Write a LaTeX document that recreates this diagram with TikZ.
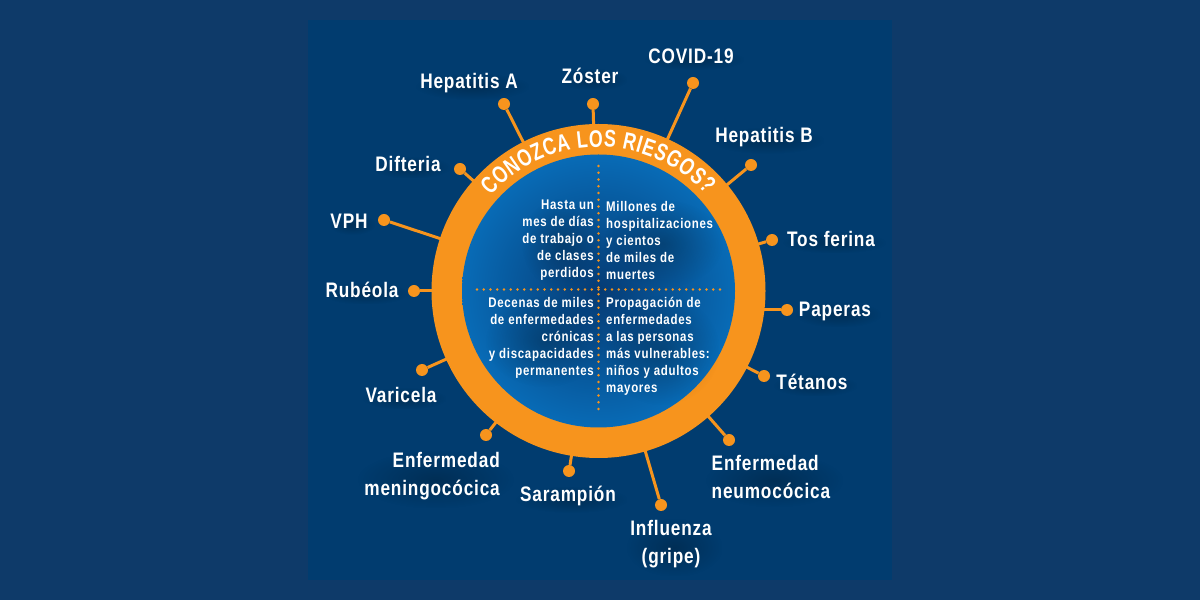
\documentclass[tikz,border=0pt]{standalone}
\usepackage{fontspec}
\usetikzlibrary{decorations.text,shadows,fadings}
\newfontfamily\lf{Liberation Sans}[FakeStretch=0.82,LetterSpace=4]
\newfontfamily\quadf{Liberation Sans}[FakeStretch=0.82,LetterSpace=5]
\newfontfamily\arcf{Liberation Sans}[FakeStretch=0.74]
\definecolor{pagebg}{HTML}{0E3A69}
\definecolor{panelbg}{HTML}{013C6F}
\definecolor{ringor}{HTML}{F7941D}
\definecolor{coreout}{HTML}{086BB6}
\definecolor{corein}{HTML}{063B74}
\tikzfading[name=softblob,inner color=transparent!55,outer color=transparent!100]
\tikzset{x=1pt,y=1pt,
  softsh/.style={general shadow={shadow xshift=3pt,shadow yshift=-3pt,shadow scale=1.12,fill=black,fill opacity=.5,path fading=softblob}},
  lab/.style={text=white,font=\lf\bfseries\fontsize{21}{28}\selectfont,inner sep=2pt,softsh},
  quad/.style={text=white,font=\quadf\bfseries\fontsize{14}{17}\selectfont,inner sep=0pt,softsh},
  spoke/.style={draw=ringor,line width=3pt},
  pin/.style={circle,fill=ringor,minimum size=12pt,inner sep=0pt},
  dotline/.style={draw=ringor,line width=2.8pt,line cap=round,dash pattern=on 0pt off 6.75pt}}
\begin{document}
\begin{tikzpicture}
\useasboundingbox (0,0) rectangle (1200,600);
\fill[pagebg] (0,0) rectangle (1200,600);
\fill[panelbg] (308,20) rectangle (892,580);
\coordinate (hub) at (598.5,309);
% pins
\foreach \n/\x/\y in {a/504/496,b/593/496,c/693/517,d/751/435,e/772/360,g/764/224,h/729/160,i/661/95,j/569/129,k/486/165,l/422/230,m/414/309,n/384/380,o/460/431}{
  \node[pin] (pin\n) at (\x,\y) {};
  \draw[spoke] (hub) -- (pin\n);
}
\node[pin] (pinf) at (787,290) {};
\draw[spoke] (pinf) -- (hub |- pinf);
\node[circle,fill=ringor,minimum size=334pt,inner sep=0pt] (ring) at (hub) {};
\node[circle,inner color=corein,outer color=coreout,minimum size=273pt,inner sep=0pt] (core) at (hub) {};
\path[decorate,decoration={text along path,text align={fit to path},text color=white,
  text={|\arcf\bfseries\fontsize{24}{24}\selectfont|CONOZCA LOS RIESGOS?}}]
  (hub) ++(138.5:144) arc (138.5:42:144);
% dotted cross
\coordinate (vt) at (598.5,434);
\coordinate (vb) at (598.5,186);
\coordinate (hl) at (477,310.5);
\coordinate (hr) at (722,310.5);
\draw[dotline] (vt) -- (vb);
\draw[dotline] (hl) -- (hr);
% quadrant text
\node[quad,anchor=east,align=right] (q1) at (594,360) {Hasta un\\mes de días\\de trabajo o\\de clases\\perdidos};
\node[quad,anchor=west,align=left] (q2) at (606,360) {Millones de\\hospitalizaciones\\y cientos\\de miles de\\muertes};
\node[quad,anchor=east,align=right] (q3) at (594,262) {Decenas de miles\\de enfermedades\\crónicas\\y discapacidades\\permanentes};
\node[quad,anchor=west,align=left] (q4) at (606,253.5) {Propagación de\\enfermedades\\a las personas\\más vulnerables:\\niños y adultos\\mayores};
% labels
\node[lab] (t1) at (469,517) {Hepatitis A};
\node[lab] (t2) at (590,524) {Zóster};
\node[lab] (t3) at (691,544) {COVID-19};
\node[lab] (t4) at (764,463) {Hepatitis B};
\node[lab] (t5) at (831,361) {Tos ferina};
\node[lab] (t6) at (835,289) {Paperas};
\node[lab] (t7) at (812,218) {Tétanos};
\node[lab,align=left,anchor=west] (t8) at (709.5,123) {Enfermedad\\neumocócica};
\node[lab,align=center] (t9) at (671,56) {Influenza\\(gripe)};
\node[lab] (t10) at (568,104) {Sarampión};
\node[lab,align=right,anchor=east] (t11) at (502,124) {Enfermedad\\meningocócica};
\node[lab] (t12) at (401,205) {Varicela};
\node[lab] (t13) at (362,310) {Rubéola};
\node[lab] (t14) at (349,379) {VPH};
\node[lab] (t15) at (408,436) {Difteria};
\end{tikzpicture}
\end{document}
